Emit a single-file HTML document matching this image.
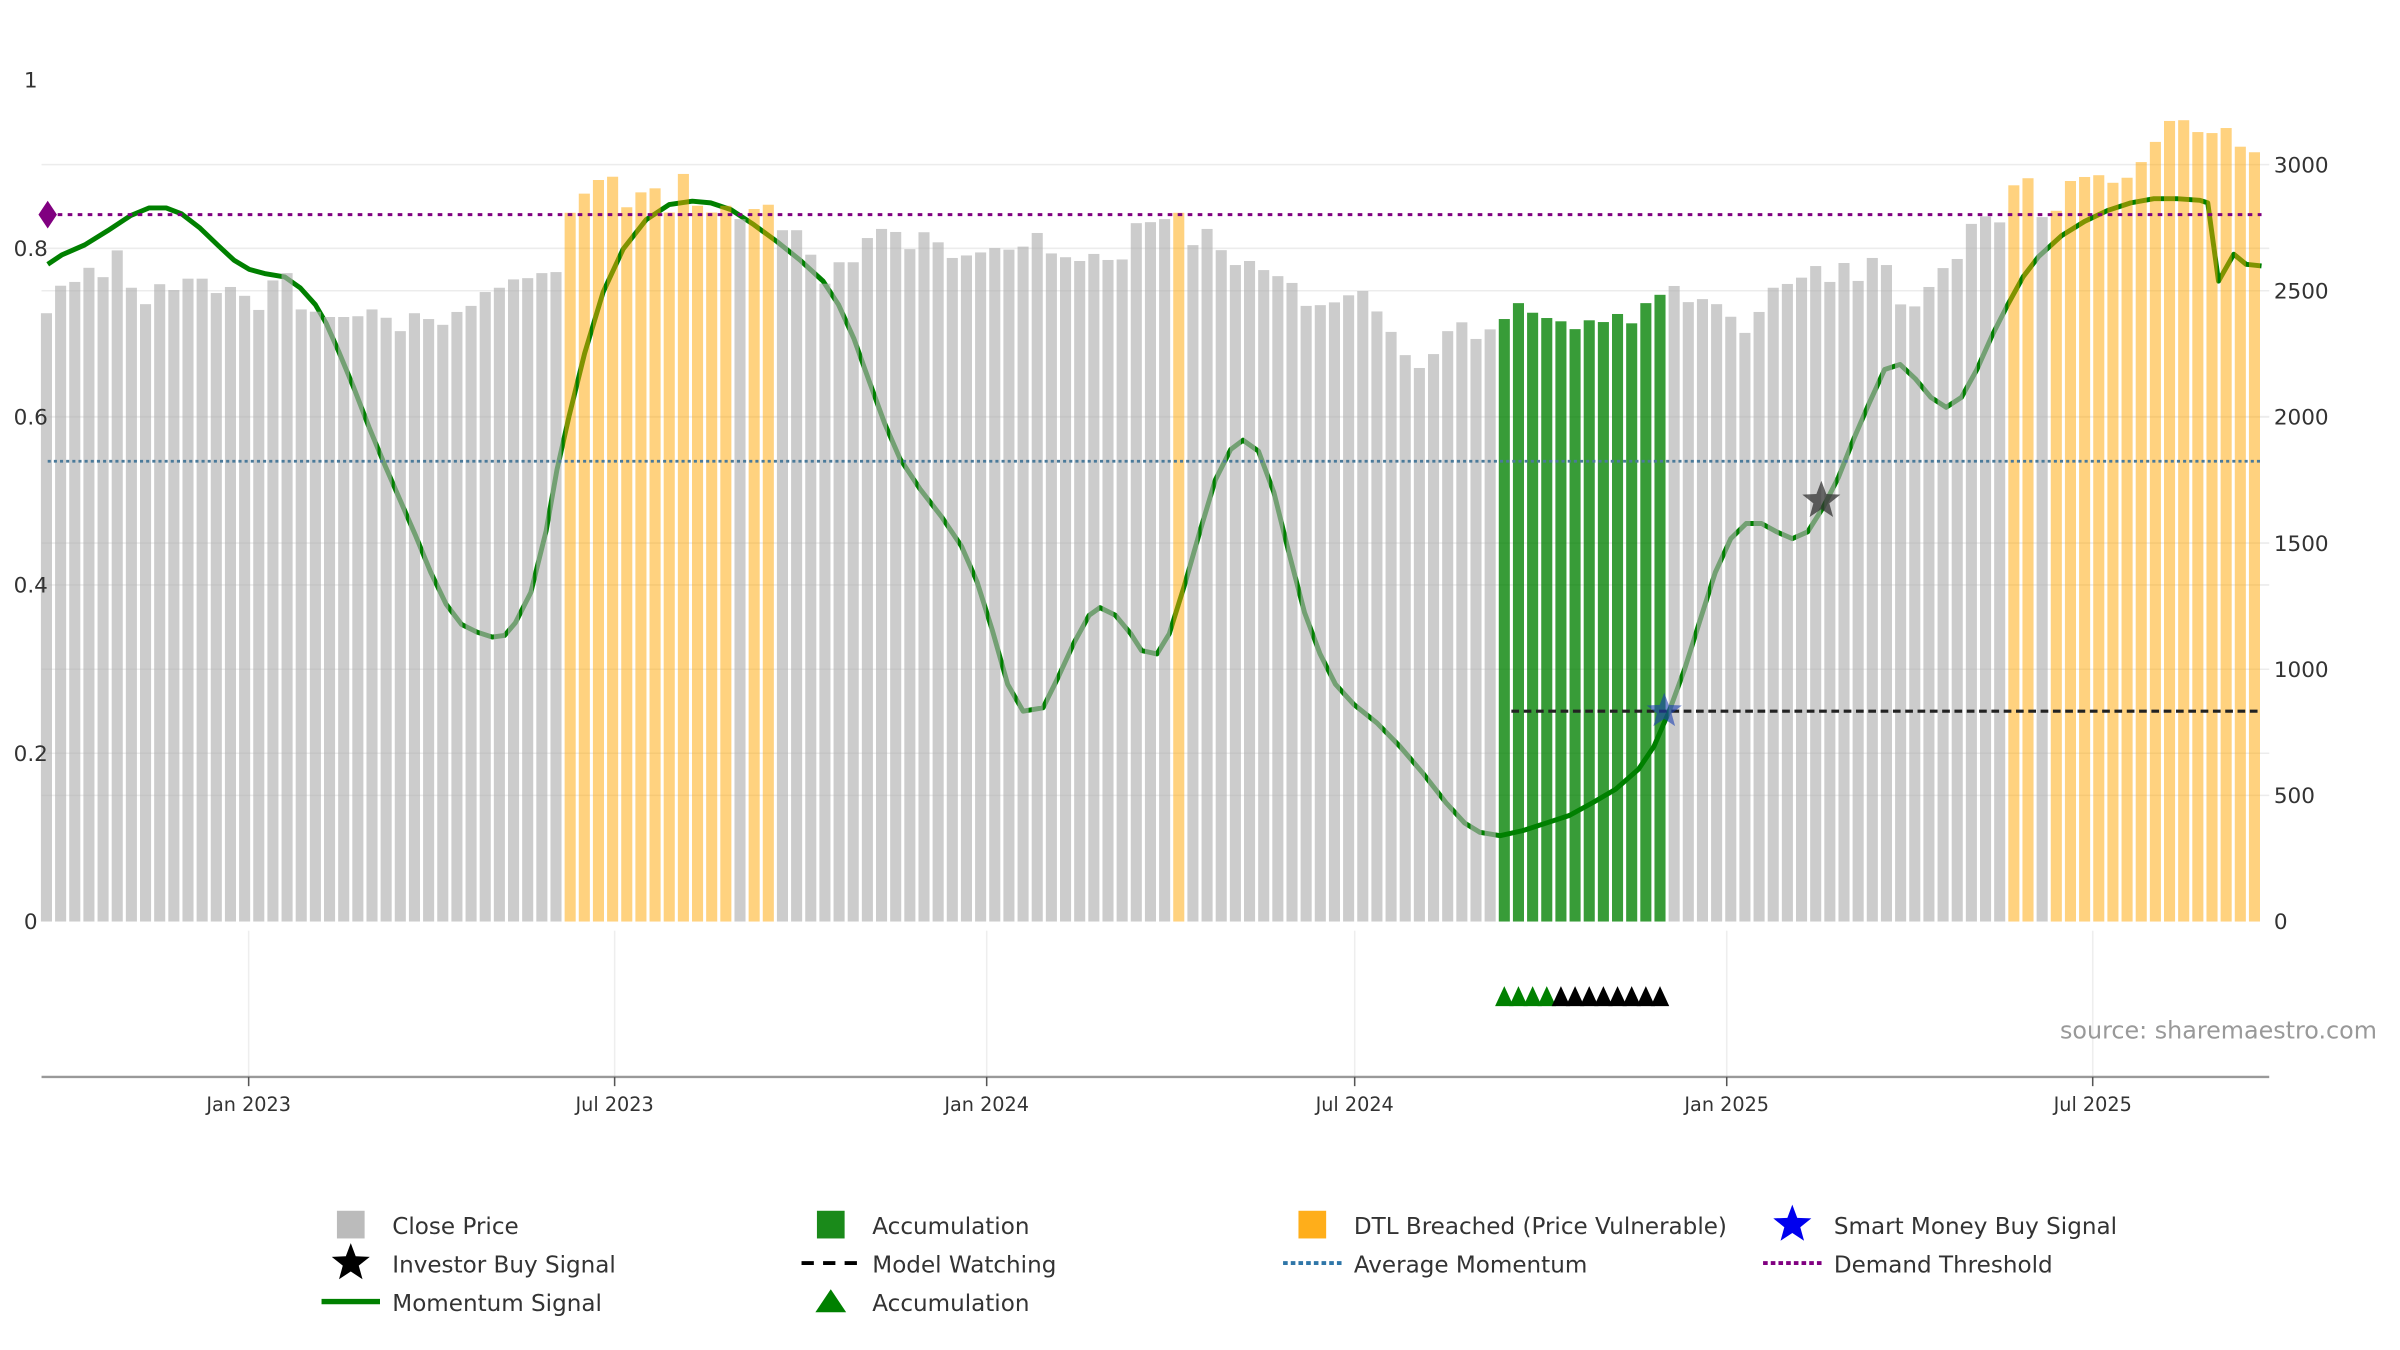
<!DOCTYPE html>
<html><head><meta charset="utf-8"><style>
html,body{margin:0;padding:0;background:#fff;}
svg{display:block;font-family:"DejaVu Sans","Liberation Sans",sans-serif;}
</style></head><body>
<svg id="chart" width="2400" height="1350" viewBox="0 0 1560 877.5" xmlns="http://www.w3.org/2000/svg">
<g id="grid"></g><g id="lineLayer"></g><g id="bars"></g><g id="overlay"></g><g id="axes"></g><g id="legend"></g>
</svg>
<script>
const startDate = new Date(Date.UTC(2022,8,23));
const closePrices = [2411,2520,2535,2591,2554,2660,2512,2447,2526,2503,2548,2548,2491,2515,2480,2424,2541,2570,2426,2417,2396,2396,2399,2426,2393,2340,2411,2388,2365,2416,2440,2495,2512,2545,2550,2570,2574,
2809,2885,2939,2952,
2831,2890,2906,2810,2963,2837,2810,2837,2784,2824,2841,2740,2740,2643,2528,2613,2613,2709,2745,2733,2665,2732,2692,2630,2640,2652,2669,2663,2675,2729,2648,2633,2618,2646,2622,2624,2768,2772,2784,2809,2681,2745,2661,
2602,2618,2582,2558,2531,2440,2443,2454,2482,2499,2418,2337,2245,2194,2249,2340,2375,2309,2347,
2388,2451,2413,2392,2379,2348,2383,2376,2408,2371,2451,2484,
2519,2455,2467,2447,2397,2333,2416,2512,2527,2552,2598,
2535,2610,2539,2630,2602,2446,2438,2515,2590,2626,2765,2795,2771,2918,2946,2792,2817,2935,2951,2958,2928,2948,3010,3090,3173,3176,3129,3125,3145,3071,3049];
const dtlBars = [37,38,39,40,41,42,43,44,45,46,47,48,50,51,80,139,140,142,143,144,145,146,147,148,149,150,151,152,153,154,155,156];
const accumBars = [103,104,105,106,107,108,109,110,111,112,113,114];
const accumTriGreen = [103,104,105,106];
const accumTriBlack = [107,108,109,110,111,112,113,114];
const momentumWeek = [0.09,1.07,2.7,4.33,5.96,7.26,8.46,9.54,10.85,12.15,13.24,14.33,15.41,16.83,17.93,19.0,19.76,20.63,21.72,22.8,23.89,24.98,26.07,27.15,28.24,29.33,30.41,31.5,32.37,33.13,34.22,35.3,36.07,36.93,38.02,39.33,40.74,42.37,44.0,45.63,46.93,48.35,49.98,51.61,53.24,54.87,55.96,57.04,58.13,59.22,60.3,61.72,63.24,64.65,65.74,66.83,67.91,69.0,70.41,71.5,72.59,73.67,74.43,75.52,76.61,77.37,78.46,79.33,80.41,81.5,82.59,83.67,84.54,85.63,86.72,87.8,88.89,89.98,91.07,92.37,94.0,95.63,97.26,98.89,100.2,101.28,102.7,104.3,105.96,107.59,109.22,110.85,112.48,113.57,114.65,115.74,116.83,117.91,119.0,120.09,121.17,122.26,123.35,124.43,125.52,126.61,127.7,128.78,129.87,130.96,132.04,133.13,134.22,135.3,136.39,137.48,138.57,139.65,140.74,142.37,144.0,145.63,147.26,148.89,150.52,152.15,152.7,153.46,154.54,155.41,156.5];
const momentumValue = [0.781,0.792,0.804,0.821,0.839,0.848,0.848,0.841,0.824,0.803,0.786,0.775,0.770,0.766,0.753,0.733,0.711,0.678,0.634,0.587,0.543,0.501,0.459,0.415,0.377,0.353,0.344,0.338,0.340,0.355,0.391,0.464,0.537,0.601,0.675,0.748,0.799,0.834,0.852,0.856,0.854,0.846,0.828,0.808,0.786,0.761,0.733,0.693,0.642,0.592,0.550,0.514,0.481,0.446,0.404,0.346,0.282,0.250,0.254,0.291,0.331,0.364,0.373,0.364,0.342,0.322,0.318,0.342,0.400,0.464,0.525,0.561,0.572,0.559,0.510,0.437,0.367,0.318,0.282,0.258,0.236,0.208,0.176,0.141,0.117,0.106,0.102,0.108,0.117,0.126,0.141,0.157,0.181,0.208,0.250,0.300,0.358,0.415,0.455,0.473,0.473,0.463,0.455,0.463,0.492,0.528,0.574,0.616,0.656,0.662,0.645,0.623,0.611,0.623,0.656,0.697,0.733,0.766,0.790,0.815,0.832,0.845,0.854,0.859,0.859,0.857,0.854,0.761,0.793,0.781,0.779];
const demandThreshold = 0.84;
const averageMomentum = 0.547;
const modelWatchingLevel = 0.25;
const modelWatchingStart = 103.5;
const smartMoneyWeek = 114.3, smartMoneyValue = 0.25;
const investorBuyWeek = 125.4, investorBuyValue = 0.50;
const leftTicks = [0,0.2,0.4,0.6,0.8,1];
const leftTickLabels = ["0","0.2","0.4","0.6","0.8","1"];
const rightTicks = [0,500,1000,1500,2000,2500,3000];
const xTickDates = ["2023-01-01","2023-07-01","2024-01-01","2024-07-01","2025-01-01","2025-07-01"];
const xTickLabels = ["Jan 2023","Jul 2023","Jan 2024","Jul 2024","Jan 2025","Jul 2025"];

const NS="http://www.w3.org/2000/svg";
const X0=30.2, DX=9.2, PL=27, PR=1475, YB=599;
const xw = w => X0 + w*DX;
const yL = v => YB - 547*v;
const yR = p => YB - 0.164*p;
const weekOf = d => (Date.parse(d+"T00:00:00Z") - startDate.getTime())/(7*864e5);
function mk(parent,tag,attrs,text){const e=document.createElementNS(NS,tag);for(const k in attrs)e.setAttribute(k,attrs[k]);if(text!==undefined)e.textContent=text;document.getElementById(parent).appendChild(e);return e;}

rightTicks.forEach(t=>{ if(t>0){const e=mk('grid','line',{x1:PL,x2:PR,y1:yR(t),y2:yR(t),stroke:'#ececec','stroke-width':1});

}});
leftTicks.forEach(t=>{ if(t>0&&t<1){const e=mk('grid','line',{x1:PL,x2:PR,y1:yL(t),y2:yL(t),stroke:'#ececec','stroke-width':1});

}});
xTickDates.forEach(d=>{const x=xw(weekOf(d));const e=mk('grid','line',{x1:x,x2:x,y1:605,y2:700,stroke:'#eeeeee','stroke-width':1});

});

let d='';momentumValue.forEach((v,i)=>{if(i<momentumWeek.length)d+=(i?'L':'M')+xw(momentumWeek[i]).toFixed(2)+' '+yL(v).toFixed(2);});
const ml=mk('lineLayer','path',{d:d,fill:'none',stroke:'#008000','stroke-width':3.2,'stroke-linejoin':'round'});



closePrices.forEach((p,i)=>{
  let fill='#b0b0b0',op=0.65,name='close-price-bar';
  if(accumBars.includes(i)){fill='#008000';op=0.78;name='accumulation-bar';}
  else if(dtlBars.includes(i)){fill='#ffa500';op=0.5;name='dtl-breached-bar';}
  const r=mk('bars','rect',{x:xw(i)-3.6,y:yR(p),width:7.2,height:YB-yR(p),fill:fill,'fill-opacity':op});
  
  
});

let e;
e=mk('overlay','line',{x1:PL+4,x2:1470,y1:yL(demandThreshold),y2:yL(demandThreshold),stroke:'#800080','stroke-width':2,'stroke-dasharray':'3 3.5'});


const dy=yL(demandThreshold);
e=mk('overlay','path',{d:`M25 ${dy} L31 ${dy-9} L37 ${dy} L31 ${dy+9} Z`,fill:'#800080'});


e=mk('overlay','line',{x1:PL+4,x2:1470,y1:yL(averageMomentum),y2:yL(averageMomentum),stroke:'#4a7a9a','stroke-width':1.8,'stroke-dasharray':'2 2'});


e=mk('overlay','line',{x1:xw(modelWatchingStart),x2:1470,y1:yL(modelWatchingLevel),y2:yL(modelWatchingLevel),stroke:'#222','stroke-width':2,'stroke-dasharray':'5 3'});


function star(cx,cy,R,fill,op){let p='';for(let k=0;k<10;k++){const r=k%2?R*0.42:R;const a=-Math.PI/2+k*Math.PI/5;p+=(k?'L':'M')+(cx+r*Math.cos(a)).toFixed(2)+' '+(cy+r*Math.sin(a)).toFixed(2);}return {d:p+'Z',fill:fill,'fill-opacity':op};}
e=mk('overlay','path',star(xw(smartMoneyWeek),yL(smartMoneyValue),12,'#1a3fb0',0.6));


e=mk('overlay','path',star(xw(investorBuyWeek),yL(investorBuyValue),13,'#333',0.75));


function tri(w,col){const x=xw(w);return {d:`M${x-6} 654 L${x} 641 L${x+6} 654 Z`,fill:col};}
accumTriGreen.forEach(w=>{const t=mk('overlay','path',tri(w,'#008000'));

});
accumTriBlack.forEach(w=>{const t=mk('overlay','path',tri(w,'#000'));

});

leftTicks.forEach((t,i)=>{const e=mk('axes','text',{x:20,y:yL(t)+5,'text-anchor':'middle','font-size':14,fill:'#333'},leftTickLabels[i]);

});
rightTicks.forEach(t=>{const e=mk('axes','text',{x:1478,y:yR(t)+5,'font-size':14,fill:'#333'},String(t));

});
e=mk('axes','line',{x1:PL,x2:PR,y1:700,y2:700,stroke:'#999','stroke-width':1.5});


xTickDates.forEach((dt,i)=>{const x=xw(weekOf(dt));
const tk=mk('axes','line',{x1:x,x2:x,y1:700,y2:706,stroke:'#555','stroke-width':1});


const tl=mk('axes','text',{x:x,y:722,'text-anchor':'middle','font-size':12.5,fill:'#333'},xTickLabels[i]);

});
e=mk('axes','text',{x:1545,y:675,'text-anchor':'end','font-size':15.5,fill:'#999'},'source: sharemaestro.com');



const legendItems=[
 [228,796,'rect','#bbbbbb','Close Price','legend-close-price'],
 [540,796,'rect','#1a8a1a','Accumulation','legend-accumulation-bar'],
 [853,796,'rect','#ffae1a','DTL Breached (Price Vulnerable)','legend-dtl-breached'],
 [1165,796,'star','#0000ee','Smart Money Buy Signal','legend-smart-money'],
 [228,821,'star','#000','Investor Buy Signal','legend-investor-buy'],
 [540,821,'dash','#000','Model Watching','legend-model-watching'],
 [853,821,'dot','#2f76a8','Average Momentum','legend-average-momentum'],
 [1165,821,'dot','#800080','Demand Threshold','legend-demand-threshold'],
 [228,846,'line','#008000','Momentum Signal','legend-momentum-signal'],
 [540,846,'tri','#008000','Accumulation','legend-accumulation-triangle']];
legendItems.forEach(([x,y,kind,col,label,name])=>{
  const g=mk('legend','g',{});
  
  
  const add=(tag,a,t)=>{const el=document.createElementNS(NS,tag);for(const k in a)el.setAttribute(k,a[k]);if(t!==undefined)el.textContent=t;g.appendChild(el);return el;};
  if(kind==='rect')add('rect',{x:x-9,y:y-9,width:18,height:18,fill:col});
  if(kind==='star')add('path',star(x,y,13,col,1));
  if(kind==='dash')add('line',{x1:x-19,x2:x+19,y1:y,y2:y,stroke:col,'stroke-width':2.5,'stroke-dasharray':'8 6'});
  if(kind==='dot')add('line',{x1:x-19,x2:x+19,y1:y,y2:y,stroke:col,'stroke-width':2.5,'stroke-dasharray':'3 2'});
  if(kind==='line')add('line',{x1:x-19,x2:x+19,y1:y,y2:y,stroke:col,'stroke-width':3.5});
  if(kind==='tri')add('path',{d:`M${x-10} ${y+7} L${x} ${y-8} L${x+10} ${y+7} Z`,fill:col});
  add('text',{x:x+27,y:y+6,'font-size':15,fill:'#333'},label);
});
</script>
</body></html>
